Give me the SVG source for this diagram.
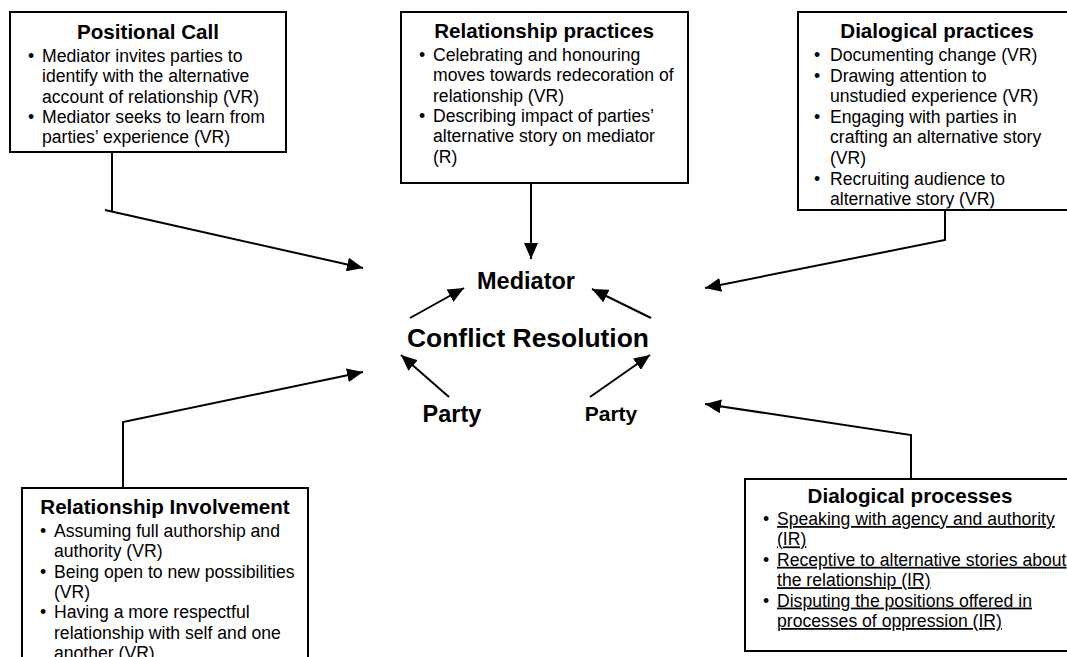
<svg xmlns="http://www.w3.org/2000/svg" width="1067" height="657" viewBox="0 0 1067 657">
<style>
.box{fill:#fff;stroke:#000;stroke-width:2}
.t{font-family:"Liberation Sans",Arial,sans-serif;font-weight:bold;font-size:20.6px;text-anchor:middle;fill:#000}
.b{font-family:"Liberation Sans",Arial,sans-serif;font-size:17.6px;fill:#000}
.u{text-decoration:underline}
.c{font-family:"Liberation Sans",Arial,sans-serif;font-weight:bold;fill:#000;text-anchor:middle}
.ln{fill:none;stroke:#000;stroke-width:2}
</style>
<defs>
<marker id="ah" markerUnits="userSpaceOnUse" markerWidth="17" markerHeight="14" refX="16" refY="7" orient="auto">
<path d="M0,0 L16,7 L0,14 Z" fill="#000"/>
</marker>
<clipPath id="c3"><rect x="798" y="12" width="280" height="196.5"/></clipPath>
</defs>
<rect width="1067" height="657" fill="#fff"/>

<g id="positional-call">
<rect class="box" x="10" y="12" width="276" height="140"/>
<text class="t" x="148" y="39">Positional Call</text>
<text class="b" x="28" y="62">•</text>
<text class="b" x="42" y="62">Mediator invites parties to</text>
<text class="b" x="42" y="82.3">identify with the alternative</text>
<text class="b" x="42" y="102.6">account of relationship (VR)</text>
<text class="b" x="28" y="122.9">•</text>
<text class="b" x="42" y="122.9">Mediator seeks to learn from</text>
<text class="b" x="42" y="143.2">parties’ experience (VR)</text>
</g>

<g id="relationship-practices">
<rect class="box" x="401" y="12" width="287" height="171"/>
<text class="t" x="544" y="38">Relationship practices</text>
<text class="b" x="419" y="61">•</text>
<text class="b" x="433" y="61">Celebrating and honouring</text>
<text class="b" x="433" y="81.3">moves towards redecoration of</text>
<text class="b" x="433" y="101.6">relationship (VR)</text>
<text class="b" x="419" y="121.9">•</text>
<text class="b" x="433" y="121.9">Describing impact of parties’</text>
<text class="b" x="433" y="142.2">alternative story on mediator</text>
<text class="b" x="433" y="162.5">(R)</text>
</g>

<g id="dialogical-practices">
<rect class="box" x="798" y="12" width="280" height="198"/>
<text class="t" x="937" y="38">Dialogical practices</text>
<g clip-path="url(#c3)">
<text class="b" x="814" y="61">•</text>
<text class="b" x="830" y="61">Documenting change (VR)</text>
<text class="b" x="814" y="81.6">•</text>
<text class="b" x="830" y="81.6">Drawing attention to</text>
<text class="b" x="830" y="102.2">unstudied experience (VR)</text>
<text class="b" x="814" y="122.8">•</text>
<text class="b" x="830" y="122.8">Engaging with parties in</text>
<text class="b" x="830" y="143.4">crafting an alternative story</text>
<text class="b" x="830" y="164">(VR)</text>
<text class="b" x="814" y="184.6">•</text>
<text class="b" x="830" y="184.6">Recruiting audience to</text>
<text class="b" x="830" y="205.2">alternative story (VR)</text>
</g>
</g>

<g id="relationship-involvement">
<rect class="box" x="22" y="488" width="286" height="190"/>
<text class="t" x="165" y="514">Relationship Involvement</text>
<text class="b" x="40" y="537">•</text>
<text class="b" x="54" y="537">Assuming full authorship and</text>
<text class="b" x="54" y="557.3">authority (VR)</text>
<text class="b" x="40" y="577.6">•</text>
<text class="b" x="54" y="577.6">Being open to new possibilities</text>
<text class="b" x="54" y="597.9">(VR)</text>
<text class="b" x="40" y="618.2">•</text>
<text class="b" x="54" y="618.2">Having a more respectful</text>
<text class="b" x="54" y="638.5">relationship with self and one</text>
<text class="b" x="54" y="658.8">another (VR)</text>
</g>

<g id="dialogical-processes">
<rect class="box" x="745" y="479" width="335" height="172"/>
<text class="t" x="910" y="503">Dialogical processes</text>
<text class="b" x="763" y="525">•</text>
<text class="b u" x="777" y="525">Speaking with agency and authority</text>
<text class="b u" x="777" y="545.4">(IR)</text>
<text class="b" x="763" y="565.8">•</text>
<text class="b u" x="777" y="565.8">Receptive to alternative stories about</text>
<text class="b u" x="777" y="586.2">the relationship (IR)</text>
<text class="b" x="763" y="606.6">•</text>
<text class="b u" x="777" y="606.6">Disputing the positions offered in</text>
<text class="b u" x="777" y="627">processes of oppression (IR)</text>
</g>

<g id="center">
<text class="c" x="526" y="289" font-size="23.5">Mediator</text>
<text class="c" x="528" y="347" font-size="26.4">Conflict Resolution</text>
<text class="c" x="452" y="422" font-size="23.5">Party</text>
<text class="c" x="611" y="421" font-size="21">Party</text>
</g>

<g id="connectors">
<path class="ln" d="M112,152 V211"/>
<path class="ln" d="M105,210 L363,268" marker-end="url(#ah)"/>
<path class="ln" d="M531,183 V259" marker-end="url(#ah)"/>
<path class="ln" d="M945,210 V240 L705,288" marker-end="url(#ah)"/>
<path class="ln" d="M123,488 V422 L363,372" marker-end="url(#ah)"/>
<path class="ln" d="M911,479 V435 L705,404" marker-end="url(#ah)"/>
<path class="ln" d="M410,318 L464,288" marker-end="url(#ah)"/>
<path class="ln" d="M651,318 L592,289" marker-end="url(#ah)"/>
<path class="ln" d="M449,397 L401,355" marker-end="url(#ah)"/>
<path class="ln" d="M590,397 L650,355" marker-end="url(#ah)"/>
</g>
</svg>
